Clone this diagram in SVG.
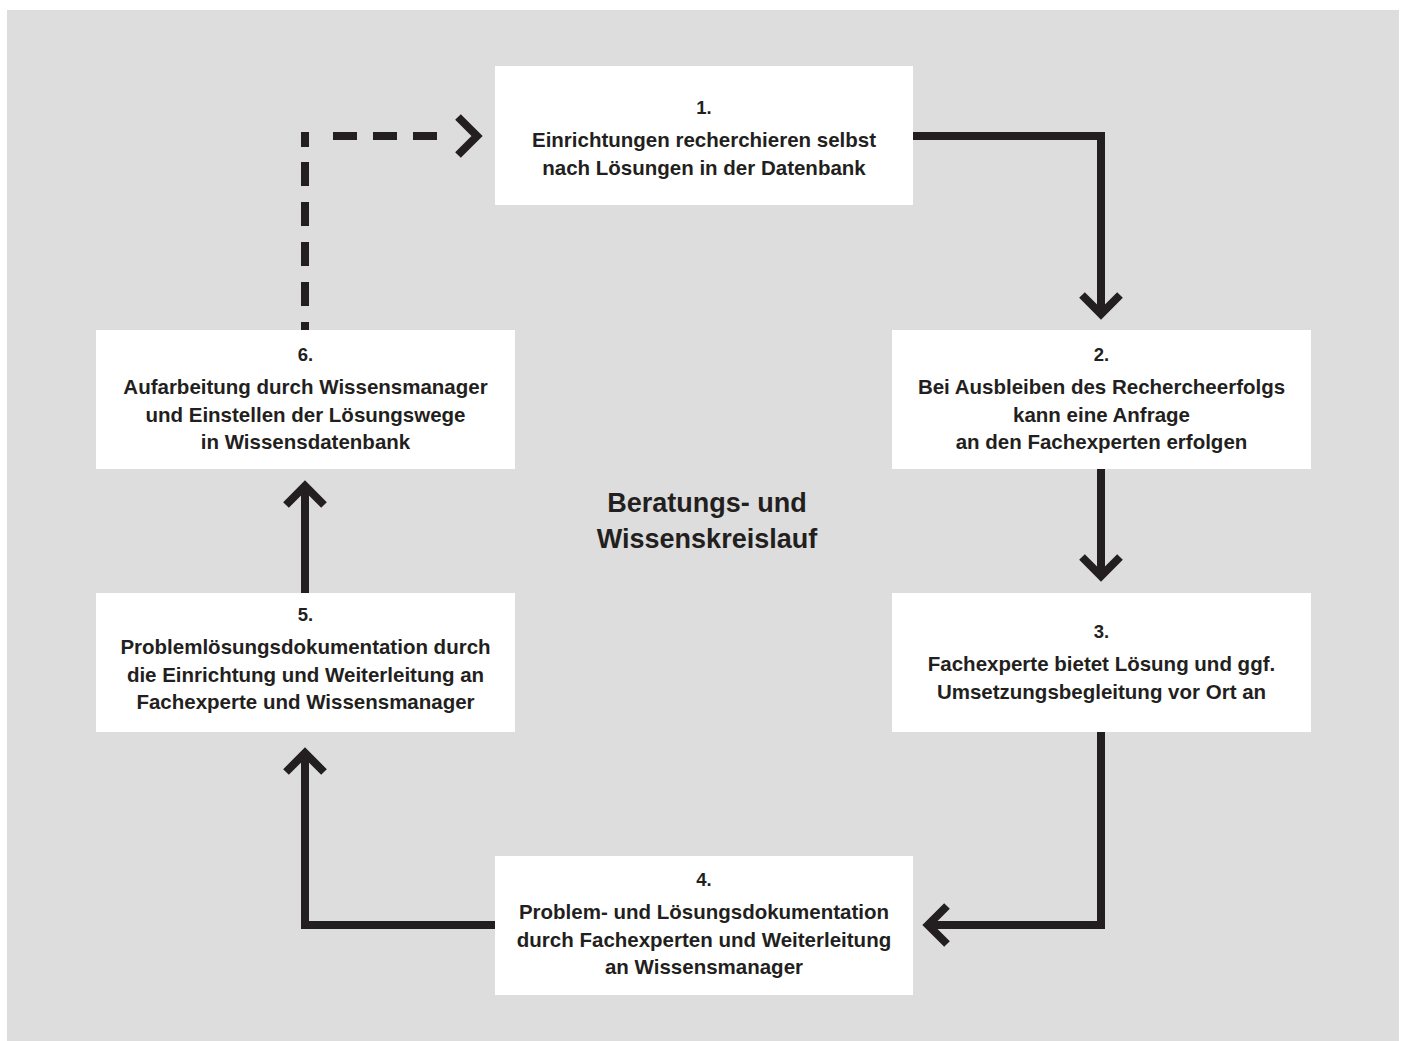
<svg xmlns="http://www.w3.org/2000/svg" width="1405" height="1041" viewBox="0 0 1405 1041">
<style>
.bg{fill:#dddddd}
.box{fill:#ffffff}
.t{font-family:"Liberation Sans",Arial,sans-serif;font-weight:bold;font-size:20.5px;fill:#231f20;text-anchor:middle}
.n{font-size:18.5px}
.title{font-size:27px}
.ln{fill:none;stroke:#231f20;stroke-width:8;stroke-linejoin:miter;stroke-linecap:butt}
</style>
<rect class="bg" x="7" y="10" width="1392" height="1031"/>
<g id="connectors">
  <path class="ln" d="M913,136 H1101 V312"/>
  <path class="ln" d="M1082,295 L1101,314 L1120,295"/>
  <path class="ln" d="M1101,469 V574"/>
  <path class="ln" d="M1082,557 L1101,576 L1120,557"/>
  <path class="ln" d="M1101,732 V925 H930"/>
  <path class="ln" d="M947,906 L928,925 L947,944"/>
  <path class="ln" d="M495,925 H305 V755"/>
  <path class="ln" d="M286,772 L305,753 L324,772"/>
  <path class="ln" d="M305,593 V488"/>
  <path class="ln" d="M286,505 L305,486 L324,505"/>
  <path class="ln" d="M305,147 V136 H309 M333,136 H357 M373,136 H397 M413,136 H437 M305,162 V186 M305,202 V226 M305,242 V266 M305,282 V306 M305,322 V331"/>
  <path class="ln" d="M458,117 L477,136 L458,155"/>
</g>
<g id="node1">
  <rect class="box" x="495" y="66" width="418" height="139"/>
  <text class="t n" x="704" y="114">1.</text>
  <text class="t" x="704" y="147">Einrichtungen recherchieren selbst</text>
  <text class="t" x="704" y="175">nach Lösungen in der Datenbank</text>
</g>
<g id="node2">
  <rect class="box" x="892" y="330" width="419" height="139"/>
  <text class="t n" x="1101.5" y="361">2.</text>
  <text class="t" x="1101.5" y="394">Bei Ausbleiben des Rechercheerfolgs</text>
  <text class="t" x="1101.5" y="422">kann eine Anfrage</text>
  <text class="t" x="1101.5" y="449">an den Fachexperten erfolgen</text>
</g>
<g id="node3">
  <rect class="box" x="892" y="593" width="419" height="139"/>
  <text class="t n" x="1101.5" y="638">3.</text>
  <text class="t" x="1101.5" y="671">Fachexperte bietet Lösung und ggf.</text>
  <text class="t" x="1101.5" y="699">Umsetzungsbegleitung vor Ort an</text>
</g>
<g id="node4">
  <rect class="box" x="495" y="856" width="418" height="139"/>
  <text class="t n" x="704" y="886">4.</text>
  <text class="t" x="704" y="919">Problem- und Lösungsdokumentation</text>
  <text class="t" x="704" y="947">durch Fachexperten und Weiterleitung</text>
  <text class="t" x="704" y="974">an Wissensmanager</text>
</g>
<g id="node5">
  <rect class="box" x="96" y="593" width="419" height="139"/>
  <text class="t n" x="305.5" y="621">5.</text>
  <text class="t" x="305.5" y="654">Problemlösungsdokumentation durch</text>
  <text class="t" x="305.5" y="682">die Einrichtung und Weiterleitung an</text>
  <text class="t" x="305.5" y="709">Fachexperte und Wissensmanager</text>
</g>
<g id="node6">
  <rect class="box" x="96" y="330" width="419" height="139"/>
  <text class="t n" x="305.5" y="361">6.</text>
  <text class="t" x="305.5" y="394">Aufarbeitung durch Wissensmanager</text>
  <text class="t" x="305.5" y="422">und Einstellen der Lösungswege</text>
  <text class="t" x="305.5" y="449">in Wissensdatenbank</text>
</g>
<g id="title">
  <text class="t title" x="707" y="512">Beratungs- und</text>
  <text class="t title" x="707" y="548">Wissenskreislauf</text>
</g>
</svg>
